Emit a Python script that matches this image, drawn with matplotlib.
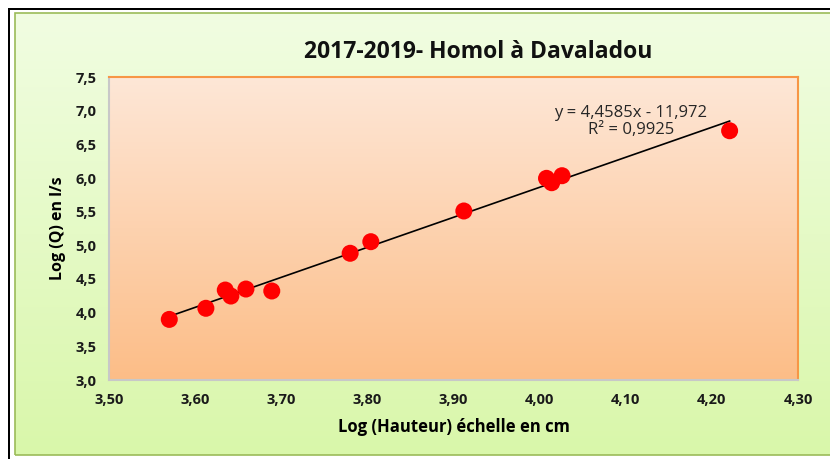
#!/usr/bin/env python3
import matplotlib

matplotlib.use("Agg")
import matplotlib.pyplot as plt
import numpy as np
from matplotlib.colors import LinearSegmentedColormap
from matplotlib.patches import Rectangle

# Data
LOG_H = [3.570, 3.6125, 3.635, 3.6415, 3.659, 3.689, 3.780, 3.804,
         3.912, 4.008, 4.014, 4.026, 4.2206]
LOG_Q = [3.90, 4.065, 4.336, 4.247, 4.351, 4.322, 4.882, 5.054,
         5.510, 5.995, 5.930, 6.034, 6.702]
SLOPE = 4.4585
INTERCEPT = -11.972
R2 = 0.9925
X_TICKS = [3.50, 3.60, 3.70, 3.80, 3.90, 4.00, 4.10, 4.20, 4.30]
Y_TICKS = [3.0, 3.5, 4.0, 4.5, 5.0, 5.5, 6.0, 6.5, 7.0, 7.5]

FONT = "Open Sans"
W, H = 830, 459


def fr(x, y, w, h):
    # pixel box (top-left origin) -> figure fraction
    return (x / W, 1 - (y + h) / H, w / W, h / H)


fig = plt.figure(figsize=(W / 100, H / 100), dpi=100)
fig.patch.set_facecolor("white")

# green chart area gradient
bg = fig.add_axes(fr(15, 13, 815, 442), zorder=-5)
green = LinearSegmentedColormap.from_list("g", ["#f1fde2", "#d9f7aa"])
bg.imshow(np.linspace(0, 1, 256).reshape(-1, 1), cmap=green, aspect="auto",
          extent=[0, 1, 0, 1], origin="upper")
bg.axis("off")

# outer frame lines
fig.add_artist(Rectangle((8 / W, 0), 2 / W, 1 - 8 / H, transform=fig.transFigure,
                         color="black", lw=0))
fig.add_artist(Rectangle((8 / W, 1 - 10 / H), 1, 2 / H, transform=fig.transFigure,
                         color="black", lw=0))
fig.add_artist(Rectangle(fr(15, 13, 820, 442)[:2], 820 / W, 442 / H,
                         transform=fig.transFigure, fill=False,
                         edgecolor="#9bbb59", lw=1.2))

ax = fig.add_axes(fr(109, 77, 689, 303))
peach = LinearSegmentedColormap.from_list("p", ["#fee7d7", "#fcbd87"])
ax.imshow(np.linspace(0, 1, 256).reshape(-1, 1), cmap=peach, aspect="auto",
          extent=[3.5, 4.3, 3.0, 7.5], origin="upper", zorder=0)
ax.set_xlim(3.5, 4.3)
ax.set_ylim(3.0, 7.5)

for side in ["top", "right"]:
    ax.spines[side].set_color("#f79646")
    ax.spines[side].set_linewidth(1.5)
for side in ["left", "bottom"]:
    ax.spines[side].set_color("#c8c8c8")
    ax.spines[side].set_linewidth(1.5)

ax.scatter(LOG_H, LOG_Q, s=150, color="#ff0000", edgecolor="none", zorder=3)

xs = np.array([min(LOG_H), max(LOG_H)])
ax.plot(xs, SLOPE * xs + INTERCEPT, color="black", lw=1.2, zorder=2)

eq = f"y = {SLOPE:.4f}x - {abs(INTERCEPT):.3f}".replace(".", ",")
r2 = f"R² = {R2:.4f}".replace(".", ",")
ax.text(4.106, 6.84, eq + "\n" + r2, ha="center", va="center", fontsize=12,
        family=FONT, color="#262626", linespacing=1.15, zorder=4)

ax.set_xticks(X_TICKS)
ax.set_yticks(Y_TICKS)
ax.set_xticklabels([f"{v:.2f}".replace(".", ",") for v in X_TICKS],
                   family=FONT, fontsize=10.5, fontweight="bold")
ax.set_yticklabels([f"{v:.1f}".replace(".", ",") for v in Y_TICKS],
                   family=FONT, fontsize=10.5, fontweight="bold")
ax.tick_params(length=0, pad=9, colors="#1a1a1a")

ax.set_xlabel("Log (Hauteur) échelle en cm", family=FONT, fontsize=12,
              fontweight="bold", labelpad=8)
ax.set_ylabel("Log (Q) en l/s", family=FONT, fontsize=11.5,
              fontweight="bold", labelpad=7)

fig.text(478 / W, 1 - 52 / H, "2017-2019- Homol à Davaladou", ha="center",
         va="center", family=FONT, fontsize=16.5, fontweight="bold", color="#111111")

fig.savefig("out.png", dpi=100)
